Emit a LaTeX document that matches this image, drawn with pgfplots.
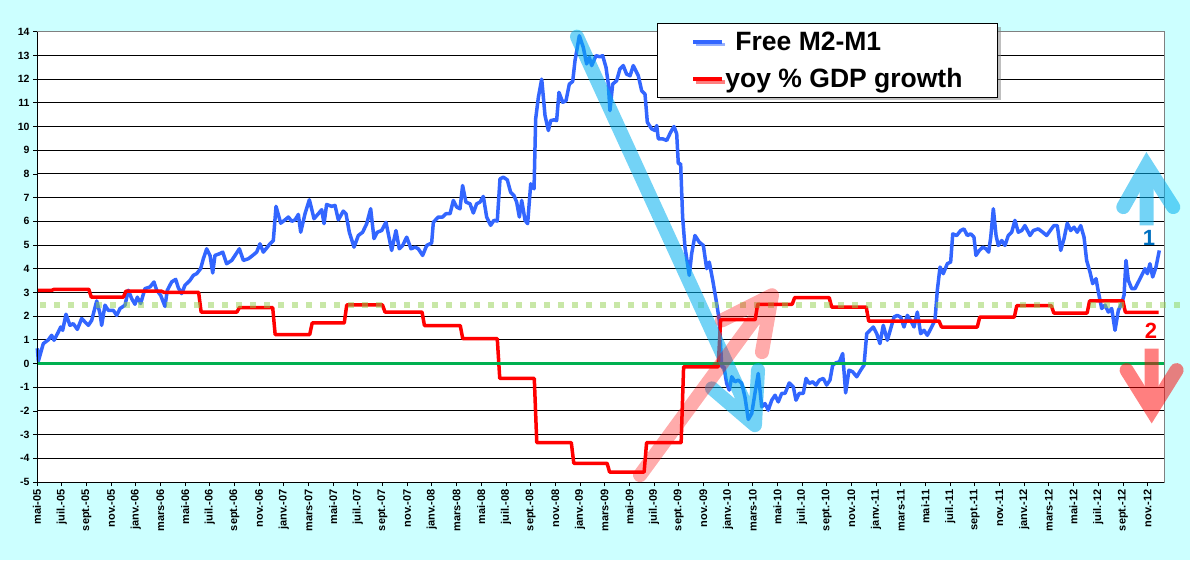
\documentclass[border=0pt]{standalone}
\usepackage{fontspec}
\setmainfont{Liberation Sans}
\usepackage{pgfplots}
\usepackage{pgfplotstable}
\pgfplotsset{compat=1.18}
\usetikzlibrary{shadows}
\definecolor{bg}{RGB}{204,255,255}
\definecolor{m2blue}{RGB}{51,102,255}
\definecolor{gdpred}{RGB}{255,0,0}
\definecolor{zerogreen}{RGB}{0,176,80}
\definecolor{dotgreen}{RGB}{146,208,80}
\definecolor{arrowblue}{RGB}{0,176,240}
\definecolor{onecol}{RGB}{0,112,192}

\pgfplotstableread{
m v
0.03 0.64
0.11 0.10
0.51 0.84
0.92 1.00
1.19 1.19
1.38 0.98
1.73 1.33
1.92 1.54
2.08 1.40
2.35 2.08
2.67 1.61
2.94 1.68
3.27 1.44
3.62 1.90
3.89 1.75
4.16 1.61
4.43 1.82
4.84 2.64
5.11 2.10
5.24 1.61
5.51 2.46
5.78 2.24
6.19 2.24
6.46 2.03
6.73 2.32
7.13 2.46
7.40 3.09
7.67 2.74
7.94 2.50
8.13 2.80
8.40 2.53
8.75 3.16
9.16 3.23
9.48 3.44
9.70 3.09
10.02 2.88
10.37 2.41
10.56 3.09
10.91 3.44
11.24 3.55
11.45 3.20
11.72 2.95
11.99 3.30
12.40 3.51
12.67 3.72
12.94 3.79
13.26 4.00
13.48 4.42
13.75 4.84
14.02 4.56
14.24 3.82
14.42 4.56
14.78 4.63
15.05 4.70
15.37 4.21
15.78 4.35
16.05 4.56
16.40 4.84
16.72 4.35
17.13 4.42
17.48 4.56
17.80 4.70
18.07 5.05
18.34 4.70
18.67 4.91
18.88 5.05
19.15 5.19
19.37 6.63
19.75 5.92
20.10 6.06
20.37 6.18
20.64 6.00
20.91 6.06
21.18 6.29
21.37 5.54
21.72 6.32
22.07 6.91
22.45 6.11
22.80 6.32
23.07 6.49
23.26 5.90
23.47 6.71
23.88 6.63
24.15 6.67
24.42 6.06
24.82 6.43
25.04 6.32
25.31 5.54
25.69 4.91
26.04 5.40
26.39 5.54
26.72 5.90
27.04 6.53
27.31 5.27
27.58 5.54
27.93 5.61
28.28 5.96
28.74 4.77
29.09 5.61
29.36 4.84
29.63 4.98
29.96 5.33
30.31 4.84
30.63 4.91
30.90 4.84
31.25 4.56
31.58 4.98
31.85 5.05
31.98 5.08
32.12 5.96
32.52 6.18
32.87 6.18
33.14 6.32
33.47 6.32
33.74 6.88
34.01 6.60
34.28 6.53
34.49 7.51
34.76 6.81
35.09 6.74
35.36 6.35
35.63 6.74
35.90 6.81
36.17 7.05
36.44 6.18
36.76 5.83
37.03 6.04
37.30 6.01
37.52 7.79
37.79 7.86
38.11 7.75
38.38 7.23
38.65 7.09
38.87 6.81
39.09 6.18
39.28 6.88
39.55 6.04
39.76 5.90
40.01 7.58
40.28 7.37
40.41 10.32
40.63 11.23
40.90 12.00
41.17 10.46
41.44 9.83
41.63 10.25
41.90 10.28
42.11 10.25
42.30 11.44
42.60 11.02
42.87 11.09
43.14 11.79
43.41 11.90
43.60 12.78
43.95 13.83
44.27 13.34
44.54 12.64
44.76 12.92
44.95 12.57
45.30 12.99
45.62 12.94
45.84 12.99
46.11 12.50
46.30 11.79
46.43 10.67
46.65 11.79
46.97 11.93
47.24 12.43
47.51 12.57
47.78 12.21
48.06 12.14
48.32 12.57
48.73 12.14
49.00 11.51
49.27 11.37
49.46 10.18
49.81 9.90
50.08 9.83
50.22 10.04
50.35 9.48
50.70 9.48
51.03 9.41
51.35 9.76
51.62 10.00
51.84 9.69
51.97 8.43
52.16 8.43
52.32 6.18
52.51 4.91
52.86 3.72
53.05 4.63
53.32 5.40
53.67 5.12
54.00 4.98
54.27 4.00
54.48 4.28
54.76 3.51
55.08 2.53
55.29 1.82
55.49 -0.14
55.67 -0.14
55.89 -0.84
56.10 -1.12
56.30 -0.56
56.56 -0.77
56.83 -0.70
57.11 -0.84
57.37 -1.41
57.64 -2.36
57.92 -2.11
58.18 -1.26
58.45 -0.42
58.73 -1.83
59.00 -1.69
59.26 -1.97
59.54 -1.55
59.81 -1.34
60.07 -1.62
60.35 -1.26
60.62 -1.26
60.96 -0.82
61.29 -0.99
61.51 -1.55
61.77 -1.26
62.10 -1.26
62.32 -0.63
62.58 -0.84
62.86 -0.77
63.13 -0.91
63.40 -0.70
63.72 -0.63
63.99 -0.91
64.26 -0.70
64.48 -0.07
64.75 0.03
65.02 0.07
65.29 0.42
65.53 -1.24
65.80 -0.28
66.10 -0.35
66.43 -0.56
66.75 -0.28
67.02 -0.07
67.24 1.26
67.50 1.40
67.77 1.54
68.05 1.26
68.31 0.84
68.58 1.61
68.91 0.98
69.18 1.47
69.45 1.96
69.72 2.03
69.99 1.96
70.26 1.54
70.53 2.03
70.80 1.82
71.07 1.54
71.34 2.17
71.61 1.26
71.88 1.40
72.15 1.19
72.50 1.54
72.77 1.82
72.96 3.09
73.18 4.07
73.44 3.79
73.77 4.21
74.04 4.28
74.21 5.47
74.53 5.40
74.85 5.61
75.12 5.68
75.39 5.40
75.66 5.47
75.93 5.33
76.09 4.56
76.36 4.77
76.64 4.91
76.90 4.84
77.12 4.70
77.29 5.33
77.50 6.53
77.72 5.40
77.90 4.98
78.18 5.19
78.44 4.98
78.71 5.40
78.99 5.54
79.25 6.04
79.52 5.54
79.80 5.61
80.06 5.82
80.47 5.40
80.74 5.61
81.14 5.68
81.50 5.54
81.82 5.40
82.15 5.64
82.41 5.82
82.68 5.82
82.96 4.77
83.23 5.27
83.49 5.92
83.77 5.61
84.04 5.75
84.30 5.54
84.58 5.82
84.85 5.33
85.06 4.35
85.33 3.86
85.55 3.37
85.82 3.58
86.01 3.02
86.28 2.32
86.55 2.46
86.82 2.17
87.09 2.32
87.36 1.40
87.63 2.24
87.90 2.53
88.09 2.88
88.25 4.35
88.44 3.51
88.71 3.16
88.98 3.16
89.25 3.44
89.52 3.72
89.79 4.00
89.98 3.79
90.19 4.21
90.41 3.65
90.68 4.07
90.95 4.77
}\freemtwo

\pgfplotstableread{
m v
0 3.09
1.2 3.09
1.4 3.13
4.2 3.13
4.4 2.80
7.0 2.80
7.2 3.05
10.1 3.05
10.3 3.00
13.1 3.00
13.3 2.17
16.2 2.17
16.4 2.36
19.1 2.36
19.3 1.22
22.1 1.22
22.3 1.71
24.9 1.71
25.1 2.47
28.0 2.47
28.2 2.17
31.2 2.17
31.4 1.60
34.3 1.60
34.5 1.05
37.3 1.05
37.5 -0.63
40.3 -0.63
40.5 -3.34
43.3 -3.34
43.5 -4.21
46.2 -4.21
46.4 -4.58
49.2 -4.58
49.4 -3.34
52.2 -3.34
52.4 -0.14
55.2 -0.14
55.4 1.85
58.2 1.85
58.4 2.50
61.2 2.50
61.4 2.78
64.2 2.78
64.4 2.38
67.2 2.38
67.4 1.79
73.1 1.79
73.3 1.54
76.2 1.54
76.4 1.96
79.2 1.96
79.4 2.44
82.2 2.44
82.4 2.13
85.1 2.13
85.3 2.64
88.0 2.64
88.2 2.16
90.9 2.16
}\gdpgrowth

\begin{document}
\begin{tikzpicture}
\path[use as bounding box, fill=bg] (-37pt,-78pt) rectangle (1153pt,482pt);
\begin{axis}[
  at={(0pt,0pt)}, anchor=south west, scale only axis,
  width=1127pt, height=450.3pt,
  xmin=0, xmax=91.33, ymin=-5, ymax=14,
  clip=false,
  axis background/.style={fill=white},
  axis line style={draw=gray, line width=0.8pt},
  xtick={0,2,...,90},
  xticklabels={mai-05,juil.-05,sept.-05,nov.-05,janv.-06,mars-06,mai-06,juil.-06,sept.-06,nov.-06,janv.-07,mars-07,mai-07,juil.-07,sept.-07,nov.-07,janv.-08,mars-08,mai-08,juil.-08,sept.-08,nov.-08,janv.-09,mars-09,mai-09,juil.-09,sept.-09,nov.-09,janv.-10,mars-10,mai-10,juil.-10,sept.-10,nov.-10,janv.-11,mars-11,mai-11,juil.-11,sept.-11,nov.-11,janv.-12,mars-12,mai-12,juil.-12,sept.-12,nov.-12},
  ytick={-5,-4,...,14},
  yticklabels={-5,-4,-3,-2,-1,0,1,2,3,4,5,6,7,8,9,10,11,12,13,14},
  ymajorgrids, major grid style={black, line width=0.9pt},
  tick align=outside, xtick pos=left, ytick pos=left,
  major tick length=4pt, tick style={black, line width=0.8pt},
  xticklabel style={rotate=90, anchor=east, font=\fontsize{11}{13}\selectfont\bfseries},
  yticklabel style={font=\fontsize{10.5}{12}\selectfont\bfseries},
  legend style={at={(axis description cs:0.5501,1.0193)}, anchor=north west,
    draw=black, line width=1pt, fill=white,
    font=\fontsize{26.5}{30}\selectfont\bfseries,
    inner xsep=34pt, inner ysep=7pt, row sep=15pt,
    nodes={inner sep=1pt},
    drop shadow={shadow xshift=3pt, shadow yshift=-3pt, fill=gray, opacity=0.5},
    legend cell align=left},
  legend image code/.code={\draw[#1, line width=4pt] (0pt,0pt)--(29pt,0pt);},
]
\addplot[m2blue, line width=3.5pt, line join=round] table[x=m, y=v] {\freemtwo};
\addlegendentry{\hspace{10pt}Free M2-M1}
\addplot[gdpred, line width=3.5pt, line join=round] table[x=m, y=v] {\gdpgrowth};
\addlegendentry{yoy \% GDP growth}
\addplot[zerogreen, line width=3.5pt, forget plot] coordinates {(0,0) (91.33,0)};
\addplot[dotgreen, opacity=0.5, line width=6pt, dash pattern=on 6pt off 8pt, forget plot] coordinates {(0.25,2.46) (92.6,2.46)};

\draw[black, line width=0.9pt] (rel axis cs:0,1) -- (rel axis cs:0,0) -- (rel axis cs:1,0);

% annotation arrows
\draw[arrowblue, opacity=0.55, line width=14pt, line cap=round, line join=round]
  (axis cs:43.76,13.79) -- (axis cs:58.18,-2.6)
  (axis cs:54.7,-1.05) -- (axis cs:58.18,-2.6) -- (axis cs:58.43,-0.28);
\draw[gdpred, opacity=0.33, line width=14pt, line cap=round, line join=round]
  (axis cs:48.87,-4.71) -- (axis cs:59.56,2.88)
  (axis cs:55.51,1.82) -- (axis cs:59.56,2.88) -- (axis cs:58.75,0.48);
\begin{scope}[transparency group, opacity=0.55]
  \draw[arrowblue, line width=14pt] (axis cs:89.93,5.83) -- (axis cs:89.93,7.9);
  \draw[arrowblue, line width=14pt, line cap=round, line join=miter]
    (axis cs:88.03,6.6) -- (axis cs:89.93,8.35) -- (axis cs:92.08,6.6);
\end{scope}
\begin{scope}[transparency group, opacity=0.5]
  \draw[gdpred, line width=14pt] (axis cs:90.33,0.63) -- (axis cs:90.33,-1.5);
  \draw[gdpred, line width=14pt, line cap=round, line join=miter]
    (axis cs:88.3,-0.28) -- (axis cs:90.33,-1.97) -- (axis cs:92.35,-0.28);
\end{scope}
\node[onecol, font=\fontsize{22}{22}\selectfont\bfseries] at (axis cs:90.11,5.28) {1};
\node[gdpred, font=\fontsize{22}{22}\selectfont\bfseries] at (axis cs:90.28,1.40) {2};
\end{axis}
\end{tikzpicture}
\end{document}
